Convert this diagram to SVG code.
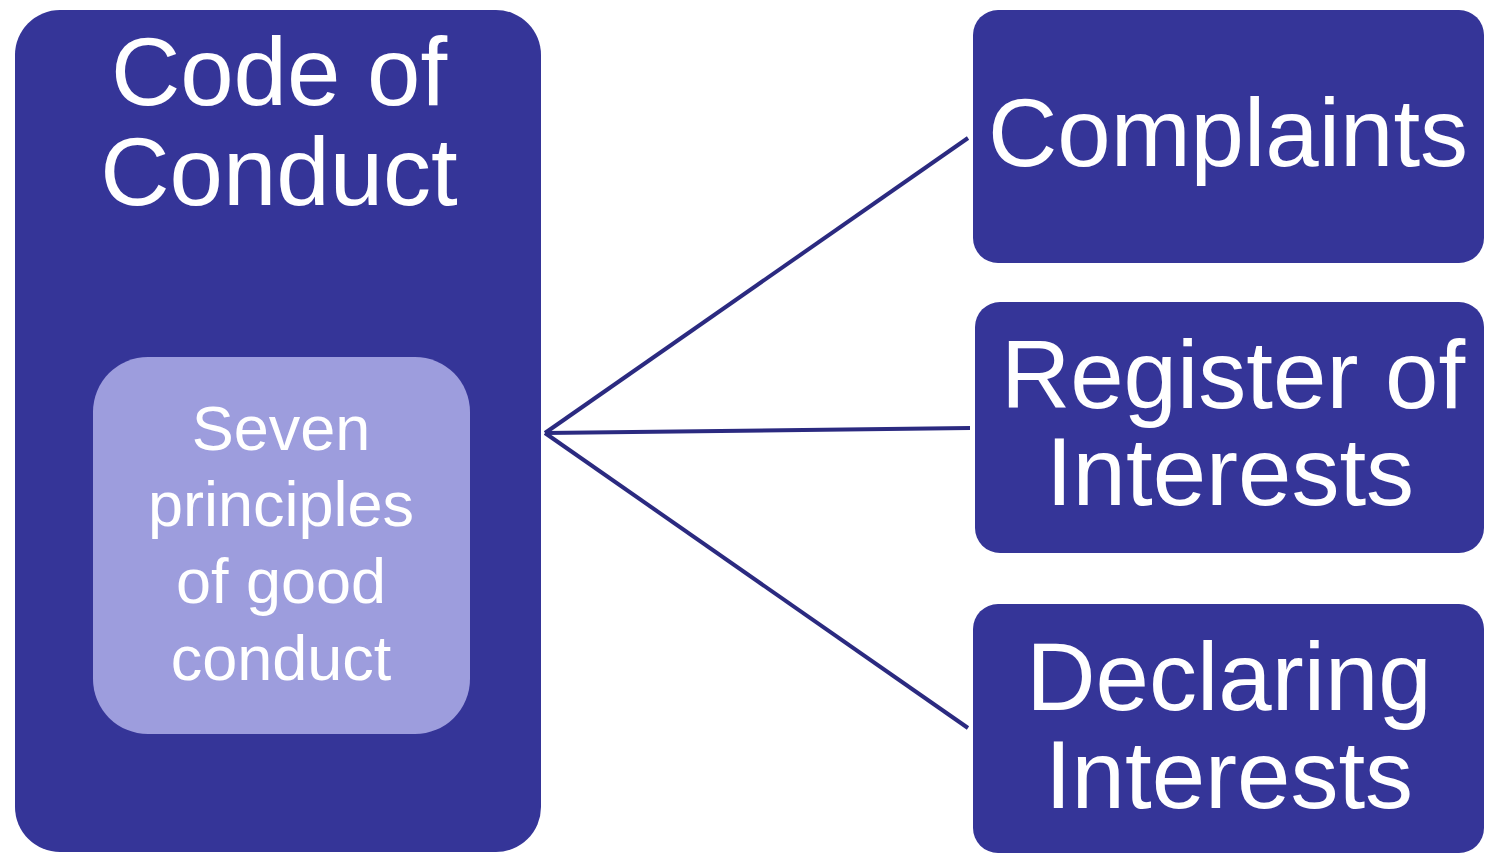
<svg xmlns="http://www.w3.org/2000/svg" width="1485" height="854" viewBox="0 0 1485 854">
<style>
.box{fill:#353598}
.inner{fill:#9d9ddd}
.t{fill:#ffffff;font-family:"Liberation Sans",Arial,sans-serif;text-anchor:middle}
.big{font-size:96px}
.small{font-size:63px}
.conn{stroke:#2b2a80;stroke-width:4;fill:none}
</style>
<rect width="1485" height="854" fill="#ffffff"/>
<g id="connectors">
<line class="conn" x1="545" y1="433" x2="968" y2="138"/>
<line class="conn" x1="545" y1="433" x2="970" y2="428"/>
<line class="conn" x1="545" y1="433" x2="968" y2="728"/>
</g>
<g id="code-of-conduct">
<rect class="box" x="15" y="10" width="526" height="842" rx="45" ry="45"/>
<text class="t big" x="279" y="105">Code of</text>
<text class="t big" x="279" y="205">Conduct</text>
</g>
<g id="seven-principles">
<rect class="inner" x="93" y="357" width="377" height="377" rx="55" ry="55"/>
<text class="t small" x="281" y="450">Seven</text>
<text class="t small" x="281" y="526">principles</text>
<text class="t small" x="281" y="603">of good</text>
<text class="t small" x="281" y="680">conduct</text>
</g>
<g id="complaints">
<rect class="box" x="973" y="10" width="511" height="253" rx="25" ry="25"/>
<text class="t big" x="1228" y="166">Complaints</text>
</g>
<g id="register-of-interests">
<rect class="box" x="975" y="302" width="509" height="251" rx="25" ry="25"/>
<text class="t big" x="1233" y="408">Register of</text>
<text class="t big" x="1230" y="505">Interests</text>
</g>
<g id="declaring-interests">
<rect class="box" x="973" y="604" width="511" height="249" rx="25" ry="25"/>
<text class="t big" x="1229" y="710">Declaring</text>
<text class="t big" x="1229" y="808">Interests</text>
</g>
</svg>
